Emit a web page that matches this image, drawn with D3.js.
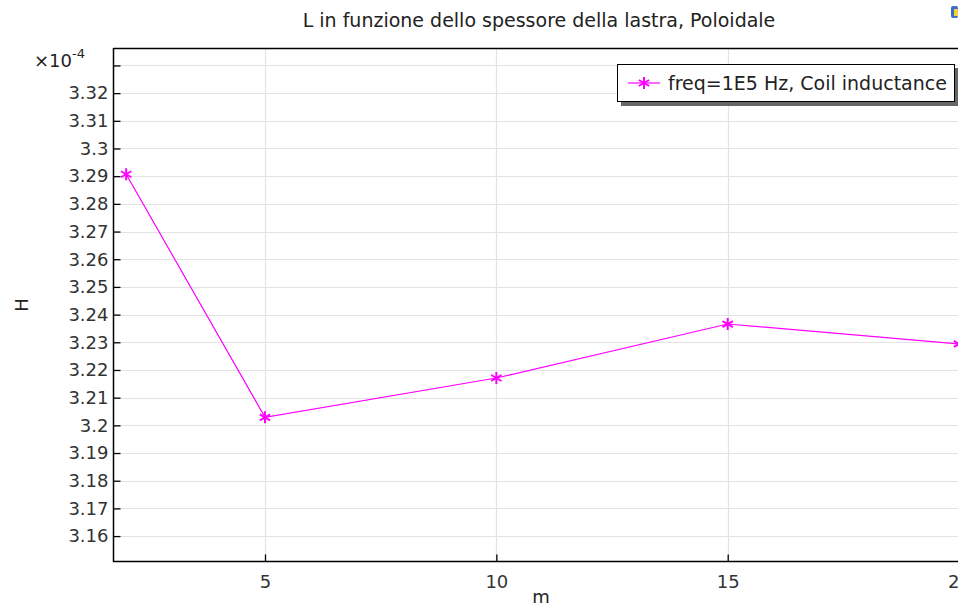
<!DOCTYPE html>
<html lang="it">
<head>
<meta charset="UTF-8">
<title>L in funzione dello spessore della lastra</title>
<script src="https://d3js.org/d3.v7.min.js"></script>
<style>
    body { margin: 0; background: #fff; }
    svg { display: block; font-family: 'DejaVu Sans', sans-serif; }
</style>
</head>
<body>
<svg id="chart" width="958" height="606"></svg>
<script>
    // data
    const thickness = [2, 5, 10, 15, 20];
    const inductance = [3.2907, 3.2029, 3.2171, 3.2366, 3.2294]; // x1e-4 H
    const xTicks = [5, 10, 15, 20];
    const yTicks = [3.16, 3.17, 3.18, 3.19, 3.2, 3.21, 3.22, 3.23, 3.24, 3.25, 3.26, 3.27, 3.28, 3.29, 3.3, 3.31, 3.32, 3.33];
    const seriesName = "freq=1E5 Hz, Coil inductance";

    const svg = d3.select("#chart");
    const plotL = 113, plotT = 48, plotR = 966, plotB = 561;

    const x = d3.scaleLinear().domain([1.715, 20.15]).range([plotL, plotR]);
    const y = d3.scaleLinear().domain([3.1510, 3.3363]).range([plotB, plotT]);
    const magenta = "#ff00ff";

    // grid
    svg.append("g").selectAll("line")
        .data(yTicks).enter().append("line")
        .attr("x1", plotL).attr("x2", plotR)
        .attr("y1", d => Math.round(y(d)) + 0.5).attr("y2", d => Math.round(y(d)) + 0.5)
        .attr("stroke", "#e3e3e3").attr("stroke-width", 1.2);
    svg.append("g").selectAll("line")
        .data(xTicks).enter().append("line")
        .attr("x1", d => Math.round(x(d)) + 0.5).attr("x2", d => Math.round(x(d)) + 0.5)
        .attr("y1", plotT).attr("y2", plotB)
        .attr("stroke", "#e3e3e3").attr("stroke-width", 1.2);

    // frame
    svg.append("path")
        .attr("d", `M${plotL + 0.5},${plotT + 0.5}H${plotR}M${plotL + 0.5},${plotT}V${plotB + 0.5}H${plotR}`)
        .attr("fill", "none").attr("stroke", "#000").attr("stroke-width", 1.5);

    // axes (inward ticks)
    const yAxis = svg.append("g")
        .attr("transform", `translate(${plotL + 0.5},0)`)
        .call(d3.axisRight(y).tickValues(yTicks).tickSize(7)
            .tickFormat(d => d > 3.325 ? "" : String(+d.toFixed(2))));
    yAxis.select(".domain").remove();
    yAxis.selectAll("text")
        .attr("x", -5).attr("text-anchor", "end")
        .attr("font-size", 18).attr("fill", "#333")
        .attr("font-family", "'DejaVu Sans', sans-serif");

    const xAxis = svg.append("g")
        .attr("transform", `translate(0,${plotB + 0.5})`)
        .call(d3.axisTop(x).tickValues(xTicks).tickSize(7).tickFormat(d3.format("d")));
    xAxis.select(".domain").remove();
    xAxis.selectAll("text")
        .attr("y", 26).attr("dy", 0).attr("text-anchor", "middle")
        .attr("font-size", 18).attr("fill", "#333")
        .attr("font-family", "'DejaVu Sans', sans-serif");
    svg.selectAll(".tick line").attr("stroke", "#000").attr("stroke-width", 1.3);

    // series
    const pts = thickness.map((t, i) => [t, inductance[i]]);
    svg.append("path")
        .datum(pts)
        .attr("fill", "none").attr("stroke", magenta).attr("stroke-width", 1.2)
        .attr("d", d3.line().x(d => x(d[0])).y(d => y(d[1])));

    function asterisk(g, cx, cy, r) {
        const p = [];
        for (let k = 0; k < 3; k++) {
            const a = Math.PI / 2 + k * Math.PI / 3;
            p.push(`M${cx + r * Math.cos(a)},${cy + r * Math.sin(a)}L${cx - r * Math.cos(a)},${cy - r * Math.sin(a)}`);
        }
        g.append("path").attr("d", p.join("")).attr("stroke", magenta).attr("stroke-width", 2).attr("fill", "none");
    }
    const markers = svg.append("g");
    pts.forEach(d => asterisk(markers, x(d[0]), y(d[1]), 6));

    // legend
    const lg = svg.append("g");
    lg.append("rect").attr("x", 621).attr("y", 68).attr("width", 338).attr("height", 38).attr("fill", "#666");
    lg.append("rect").attr("x", 617.5).attr("y", 64.5).attr("width", 337).attr("height", 37)
        .attr("fill", "#fff").attr("stroke", "#000").attr("stroke-width", 1);
    lg.append("line").attr("x1", 628).attr("x2", 660).attr("y1", 83).attr("y2", 83)
        .attr("stroke", magenta).attr("stroke-width", 1.2);
    asterisk(lg, 644, 83, 6);
    lg.append("text").attr("x", 668).attr("y", 90).attr("font-size", 19).attr("fill", "#222")
        .text(seriesName);

    // labels
    svg.append("text").attr("x", 539).attr("y", 27).attr("text-anchor", "middle")
        .attr("font-size", 19).attr("fill", "#222")
        .text("L in funzione dello spessore della lastra, Poloidale");
    svg.append("text").attr("x", 541).attr("y", 603).attr("text-anchor", "middle")
        .attr("font-size", 18).attr("fill", "#222").text("m");
    svg.append("text").attr("transform", "translate(28,305) rotate(-90)").attr("text-anchor", "middle")
        .attr("font-size", 18).attr("fill", "#222").text("H");
    const ex = svg.append("text").attr("x", 34).attr("y", 67).attr("font-size", 18).attr("fill", "#222");
    ex.append("tspan").text("×10");
    ex.append("tspan").attr("dy", -9).attr("font-size", 13).text("-4");

    // small toolbar icon at top right
    svg.append("rect").attr("x", 951).attr("y", 6).attr("width", 7).attr("height", 12).attr("rx", 2)
        .attr("fill", "#3a6fc4");
    svg.append("rect").attr("x", 954).attr("y", 9).attr("width", 4).attr("height", 7).attr("fill", "#f3d23a");
</script>
</body>
</html>
